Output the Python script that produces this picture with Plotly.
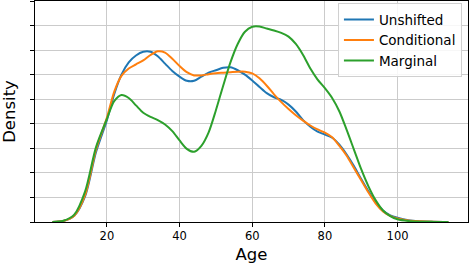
import plotly.graph_objects as go

# Ages at which the density curves are sampled
age = [5, 8, 11, 14, 17, 20, 22, 24, 26, 28, 30, 32, 34, 36, 38, 40, 42, 44, 46, 48,
       50, 52, 54, 56, 58, 60, 62, 64, 66, 68, 70, 72, 74, 76, 78, 80, 82, 84, 86, 88,
       90, 92, 94, 96, 98, 100, 103, 106, 110, 114]

# Density values (in units of 0.0025)
unshifted = [0, 0.04, 0.25, 1.05, 2.85, 4.15, 5.2, 6.0, 6.5, 6.78, 6.93, 6.93, 6.75, 6.45, 6.15,
             5.92, 5.75, 5.75, 5.92, 6.08, 6.18, 6.28, 6.3, 6.18, 6.0, 5.76, 5.5, 5.25, 5.08, 4.97,
             4.78, 4.5, 4.15, 3.88, 3.68, 3.56, 3.43, 3.15, 2.75, 2.28, 1.75, 1.25, 0.8, 0.47, 0.27,
             0.17, 0.07, 0.03, 0.01, 0]
conditional = [0, 0.04, 0.25, 1.1, 2.95, 4.25, 5.3, 5.95, 6.25, 6.42, 6.58, 6.8, 6.95, 6.9, 6.65,
               6.35, 6.1, 5.97, 5.97, 6.02, 6.06, 6.08, 6.1, 6.12, 6.12, 6.05, 5.85, 5.55, 5.2, 4.88,
               4.6, 4.35, 4.13, 3.93, 3.77, 3.64, 3.45, 3.1, 2.7, 2.2, 1.7, 1.2, 0.75, 0.43, 0.25,
               0.14, 0.06, 0.03, 0.01, 0]
marginal = [0, 0.05, 0.3, 1.25, 3.05, 4.2, 4.92, 5.17, 5.05, 4.75, 4.45, 4.28, 4.15, 3.97, 3.7,
            3.32, 2.98, 2.86, 3.1, 3.65, 4.55, 5.55, 6.5, 7.25, 7.75, 7.95, 7.96, 7.88, 7.8, 7.7,
            7.55, 7.25, 6.8, 6.25, 5.8, 5.45, 5.05, 4.5, 3.75, 2.95, 2.15, 1.45, 0.88, 0.47, 0.24,
            0.11, 0.04, 0.015, 0.005, 0]

unit = 0.0025
x_ticks = [20, 40, 60, 80, 100]
y_ticks = [i * unit for i in range(10)]

series = [("Unshifted", unshifted, "#1f77b4"),
          ("Conditional", conditional, "#ff7f0e"),
          ("Marginal", marginal, "#2ca02c")]

fig = go.Figure()
for name, vals, color in series:
    fig.add_trace(go.Scatter(
        x=age, y=[v * unit for v in vals], name=name, mode="lines",
        line=dict(color=color, width=2, shape="spline", smoothing=0.8),
    ))

font = "DejaVu Sans, sans-serif"
fig.update_layout(
    width=470, height=268,
    margin=dict(l=35, r=2, t=1, b=46),
    paper_bgcolor="white", plot_bgcolor="white",
    font=dict(family=font, color="black"),
    showlegend=True,
    legend=dict(x=0.986, y=0.99, xanchor="right", yanchor="top",
                bgcolor="rgba(255,255,255,0.85)", bordercolor="#d0d0d0", borderwidth=1,
                font=dict(size=13.5, family=font), tracegroupgap=0),
)
fig.update_xaxes(
    range=[0.2, 119.4], tickvals=x_ticks, ticktext=[str(t) for t in x_ticks],
    showgrid=True, gridcolor="#cbcbcb", gridwidth=1,
    showline=True, mirror=True, linecolor="black", linewidth=1,
    ticks="outside", ticklen=3.5, tickcolor="black",
    tickfont=dict(size=11.5), zeroline=False,
    title=dict(text="Age", font=dict(size=16.5), standoff=6),
)
fig.update_yaxes(
    range=[0, 9 * unit], tickvals=y_ticks, showticklabels=False,
    showgrid=True, gridcolor="#cbcbcb", gridwidth=1,
    showline=True, mirror=True, linecolor="black", linewidth=1,
    ticks="outside", ticklen=4, tickcolor="black", zeroline=False,
    title=dict(text="Density", font=dict(size=16.5), standoff=10),
)

fig.write_html("out.html",
               config={"displayModeBar": False, "staticPlot": True},
               post_script="document.body.style.margin='0';document.body.style.overflow='hidden';")
